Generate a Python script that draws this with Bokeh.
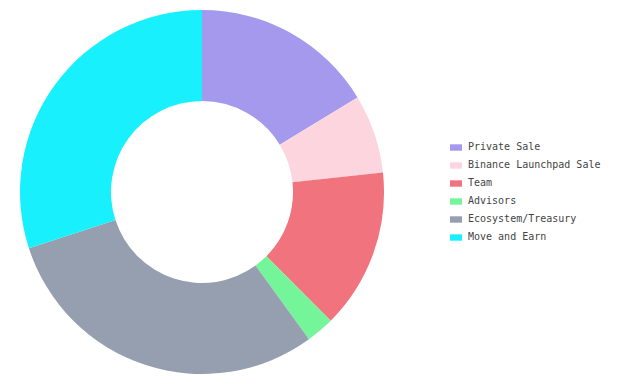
import math
from bokeh.plotting import figure
from bokeh.models import ColumnDataSource, Legend, LegendItem, Range1d
from bokeh.embed import file_html
from bokeh.resources import INLINE

labels = ["Private Sale", "Binance Launchpad Sale", "Team", "Advisors",
          "Ecosystem/Treasury", "Move and Earn"]
shares = [16.3, 7.0, 14.2, 2.5, 30.0, 30.0]
colors = ["#A499EC", "#FDD5DE", "#F0737E", "#74F59A", "#959FAF", "#18F0FE"]

total = sum(shares)
starts, ends = [], []
cum = 0.0
for s in shares:
    starts.append(math.pi / 2 - 2 * math.pi * cum / total)
    cum += s
    ends.append(math.pi / 2 - 2 * math.pi * cum / total)

src = ColumnDataSource(dict(label=labels, share=shares, color=colors,
                            start=starts, end=ends,
                            x=[201.5] * len(labels), y=[188.5] * len(labels)))

W, H = 624, 380
p = figure(width=W, height=H, output_backend="svg", toolbar_location=None,
           x_range=Range1d(0, W), y_range=Range1d(0, H), min_border=0,
           background_fill_color="white", border_fill_color="white")
p.axis.visible = False
p.grid.visible = False
p.outline_line_color = None

r = p.annular_wedge(x="x", y="y", inner_radius=91, outer_radius=182,
                    start_angle="start", end_angle="end", direction="clock",
                    color="color", line_color=None, source=src)

items = [LegendItem(label=lab, renderers=[r], index=i) for i, lab in enumerate(labels)]
legend = Legend(items=items, location=(448, 136), padding=0, margin=0,
                glyph_width=15, glyph_height=8, label_standoff=5,
                label_height=15, spacing=3,
                label_text_font="DejaVu Sans Mono", label_text_font_size="10px",
                label_text_color="#444444",
                border_line_alpha=0, background_fill_alpha=0)
p.add_layout(legend, "center")

open("out.html", "w").write(file_html(p, INLINE))
